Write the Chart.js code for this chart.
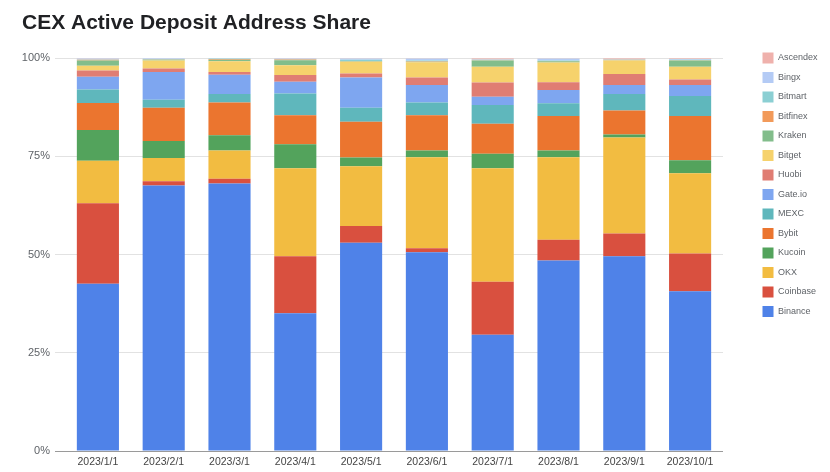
<!DOCTYPE html>
<html>
<head>
<meta charset="utf-8">
<title>CEX Active Deposit Address Share</title>
<script src="https://cdn.jsdelivr.net/npm/chart.js@4.4.0/dist/chart.umd.min.js"></script>
<style>
  html, body { margin: 0; padding: 0; background: #fff; }
  #wrap { width: 830px; height: 472px; position: relative; }
</style>
</head>
<body>
<div id="wrap"><canvas id="chart"></canvas></div>
<script>
// 月（カテゴリ）
const months = ['2023/1/1', '2023/2/1', '2023/3/1', '2023/4/1', '2023/5/1',
  '2023/6/1', '2023/7/1', '2023/8/1', '2023/9/1', '2023/10/1'];
const yTicks = [0, 25, 50, 75, 100];

// 取引所別シェア（%）— 下から積み上げ順
const binance  = [42.6, 67.6, 68.1, 35.1, 53.0, 50.6, 29.6, 48.5, 49.6, 40.7];
const coinbase = [20.5, 1.1, 1.2, 14.5, 4.3, 1.0, 13.5, 5.3, 5.8, 9.6];
const okx      = [10.8, 5.9, 7.2, 22.4, 15.2, 23.2, 28.9, 21.0, 24.4, 20.4];
const kucoin   = [7.8, 4.3, 3.9, 6.1, 2.2, 1.7, 3.7, 1.7, 0.8, 3.3];
const bybit    = [6.9, 8.5, 8.3, 7.4, 9.1, 9.0, 7.6, 8.8, 6.1, 11.3];
const mexc     = [3.4, 2.0, 2.2, 5.5, 3.6, 3.2, 4.8, 3.2, 4.2, 5.1];
const gateio   = [3.3, 7.1, 4.9, 3.0, 7.7, 4.5, 2.1, 3.4, 2.3, 2.8];
const huobi    = [1.6, 0.9, 0.7, 1.7, 1.0, 1.9, 3.6, 2.0, 2.8, 1.4];
const bitget   = [1.2, 2.0, 2.7, 2.5, 3.0, 3.9, 4.0, 5.0, 3.4, 3.2];
const kraken   = [1.3, 0.2, 0.4, 1.3, 0.1, 0.1, 1.6, 0.3, 0.1, 1.6];
const bitfinex = [0.2, 0.1, 0.2, 0.2, 0.1, 0.1, 0.1, 0.1, 0.1, 0.1];
const bitmart  = [0.1, 0.1, 0.1, 0.1, 0.3, 0.2, 0.1, 0.1, 0.1, 0.1];
const bingx    = [0.2, 0.2, 0.1, 0.1, 0.3, 0.5, 0.1, 0.5, 0.1, 0.2];
const ascendex = [0.1, 0.0, 0.0, 0.1, 0.1, 0.1, 0.3, 0.1, 0.2, 0.2];

const exchanges = ['Binance', 'Coinbase', 'OKX', 'Kucoin', 'Bybit', 'MEXC', 'Gate.io',
  'Huobi', 'Bitget', 'Kraken', 'Bitfinex', 'Bitmart', 'Bingx', 'Ascendex'];
const series = [binance, coinbase, okx, kucoin, bybit, mexc, gateio,
  huobi, bitget, kraken, bitfinex, bitmart, bingx, ascendex];
const colors = ['#4f82e8', '#d9503f', '#f2bc41', '#53a35c', '#eb752f', '#5fb7bc', '#7ea6f0',
  '#e07d73', '#f6d26c', '#82bd8b', '#f29a5a', '#8bcfd3', '#b4cbf5', '#efb1ac'];

Chart.defaults.font.family = '"Liberation Sans", Arial, sans-serif';

const datasets = exchanges.map((name, i) => ({
  label: name,
  data: series[i],
  backgroundColor: colors[i],
  borderWidth: 0,
  barPercentage: 0.8,
  categoryPercentage: 0.8,
}));

const gridColor = (ctx) => (ctx.tick && ctx.tick.value === 0 ? '#9a9a9a' : '#e2e2e2');

// 凡例をグラフ領域から少し右へずらす
const legendShift = {
  id: 'legendShift',
  afterLayout: (chart) => {
    chart.legend.left += 31;
    chart.legend.right += 31;
  },
};

new Chart(document.getElementById('chart'), {
  type: 'bar',
  data: { labels: months, datasets },
  options: {
    responsive: true,
    maintainAspectRatio: false,
    animation: false,
    devicePixelRatio: 1,
    layout: { padding: { left: 22, right: 0, top: 0, bottom: 1 } },
    plugins: {
      title: {
        display: true,
        text: 'CEX Active Deposit Address Share',
        align: 'start',
        color: '#202124',
        font: { size: 21, weight: 'bold' },
        padding: { top: 11, bottom: 22 },
      },
      legend: {
        position: 'right',
        align: 'start',
        reverse: true,
        title: { display: true, text: '', font: { size: 10 }, padding: { top: 32, bottom: 0 } },
        labels: {
          boxWidth: 11,
          boxHeight: 11,
          padding: 8.5,
          color: '#5f6368',
          font: { size: 9 },
        },
      },
      tooltip: { enabled: false },
    },
    scales: {
      x: {
        stacked: true,
        grid: { display: false, drawTicks: false },
        border: { display: false },
        ticks: { color: '#444', font: { size: 10.5 }, padding: 5, maxRotation: 0, autoSkip: false },
        afterFit: (s) => { s.paddingRight = 107; s.height = 20; },
      },
      y: {
        stacked: true,
        min: 0,
        max: 100,
        afterBuildTicks: (s) => { s.ticks = yTicks.map((v) => ({ value: v })); },
        ticks: { color: '#5f6368', font: { size: 11 }, padding: 5, callback: (v) => v + '%' },
        grid: { color: gridColor, tickColor: gridColor, drawTicks: true, tickLength: 10 },
        border: { display: false },
        afterFit: (s) => { s.width = 43; },
      },
    },
  },
  plugins: [legendShift],
});
</script>
</body>
</html>
